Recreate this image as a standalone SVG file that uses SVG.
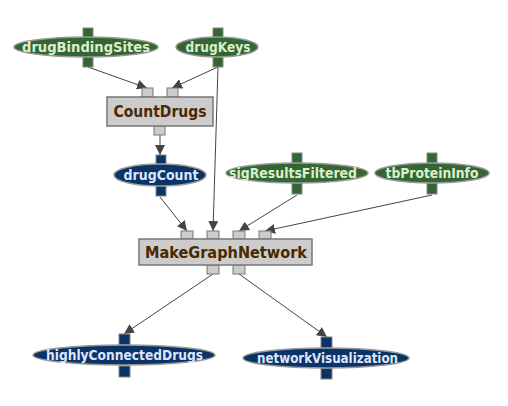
<svg xmlns="http://www.w3.org/2000/svg" width="508" height="406" viewBox="0 0 508 406">
<defs>
<marker id="ah" viewBox="0 0 10 10" refX="10" refY="5" markerWidth="10" markerHeight="10" markerUnits="userSpaceOnUse" orient="auto">
<path d="M0,0 L10,5 L0,10 z" fill="#444"/>
</marker>
<style>
.g{fill:#336633;stroke:#999;stroke-width:1.5}
.b{fill:#0a3366;stroke:#999;stroke-width:1.5}
.gp{fill:#336633;stroke:#888;stroke-width:1}
.bp{fill:#0a3366;stroke:#888;stroke-width:1}
.box{fill:#cccccc;stroke:#777;stroke-width:1.5}
.p{fill:#cccccc;stroke:#777;stroke-width:1}
.t{font-family:"DejaVu Sans Condensed","DejaVu Sans",sans-serif;font-stretch:condensed;font-weight:bold;font-size:14px;text-anchor:middle}
.tg{fill:#ddeecc}
.tb{fill:#dde6ff}
.tp{fill:#4a2800;font-size:15px}
.e{stroke:#444;stroke-width:1;fill:none;marker-end:url(#ah)}
</style>
</defs>
<g id="connectors">
<line class="e" x1="88" y1="67" x2="147" y2="88"/>
<line class="e" x1="218" y1="67" x2="172" y2="88"/>
<line class="e" x1="218" y1="67" x2="213" y2="231"/>
<line class="e" x1="160" y1="135" x2="160" y2="155"/>
<line class="e" x1="160" y1="197" x2="187" y2="231"/>
<line class="e" x1="297" y1="195" x2="239" y2="231"/>
<line class="e" x1="432" y1="195" x2="265" y2="231"/>
<line class="e" x1="213" y1="274" x2="124" y2="334"/>
<line class="e" x1="239" y1="274" x2="327" y2="337"/>
</g>
<g id="drugBindingSites">
<rect class="gp" x="83" y="28" width="10" height="10"/>
<rect class="gp" x="83" y="57" width="10" height="10"/>
<ellipse class="g" cx="86" cy="47" rx="72" ry="10"/>
<text class="t tg" x="86" y="52" textLength="128" lengthAdjust="spacingAndGlyphs">drugBindingSites</text>
</g>
<g id="drugKeys">
<rect class="gp" x="213" y="28" width="10" height="10"/>
<rect class="gp" x="213" y="57" width="10" height="10"/>
<ellipse class="g" cx="217" cy="47" rx="41" ry="10"/>
<text class="t tg" x="218" y="52" textLength="65" lengthAdjust="spacingAndGlyphs">drugKeys</text>
</g>
<g id="CountDrugs">
<rect class="p" x="142" y="88" width="11" height="9"/>
<rect class="p" x="167" y="88" width="11" height="9"/>
<rect class="p" x="154" y="126" width="11" height="9"/>
<rect class="box" x="107" y="97" width="106" height="29"/>
<text class="t tp" x="160" y="117" textLength="93" lengthAdjust="spacingAndGlyphs">CountDrugs</text>
</g>
<g id="drugCount">
<rect class="bp" x="156" y="155" width="10" height="9"/>
<rect class="bp" x="156" y="186" width="10" height="10"/>
<ellipse class="b" cx="160" cy="175" rx="46" ry="11"/>
<text class="t tb" x="161" y="180" textLength="75" lengthAdjust="spacingAndGlyphs">drugCount</text>
</g>
<g id="sigResultsFiltered">
<rect class="gp" x="292" y="153" width="10" height="10"/>
<rect class="gp" x="292" y="183" width="10" height="11"/>
<ellipse class="g" cx="297" cy="173" rx="71" ry="10"/>
<text class="t tg" x="293" y="178" textLength="128" lengthAdjust="spacingAndGlyphs">sigResultsFiltered</text>
</g>
<g id="tbProteinInfo">
<rect class="gp" x="427" y="153" width="10" height="10"/>
<rect class="gp" x="427" y="183" width="10" height="11"/>
<ellipse class="g" cx="432" cy="173" rx="57" ry="10"/>
<text class="t tg" x="432" y="178" textLength="93" lengthAdjust="spacingAndGlyphs">tbProteinInfo</text>
</g>
<g id="MakeGraphNetwork">
<rect class="p" x="181" y="231" width="12" height="8"/>
<rect class="p" x="207" y="231" width="12" height="8"/>
<rect class="p" x="233" y="231" width="12" height="8"/>
<rect class="p" x="259" y="231" width="12" height="8"/>
<rect class="p" x="207" y="265" width="12" height="9"/>
<rect class="p" x="233" y="265" width="12" height="9"/>
<rect class="box" x="139" y="239" width="173" height="26"/>
<text class="t tp" x="226" y="258" textLength="162" lengthAdjust="spacingAndGlyphs">MakeGraphNetwork</text>
</g>
<g id="highlyConnectedDrugs">
<rect class="bp" x="119" y="334" width="11" height="11"/>
<rect class="bp" x="119" y="366" width="11" height="11"/>
<ellipse class="b" cx="124" cy="355" rx="91" ry="10"/>
<text class="t tb" x="124.5" y="360" textLength="157" lengthAdjust="spacingAndGlyphs">highlyConnectedDrugs</text>
</g>
<g id="networkVisualization">
<rect class="bp" x="321" y="337" width="11" height="11"/>
<rect class="bp" x="321" y="368" width="11" height="11"/>
<ellipse class="b" cx="326" cy="358" rx="83" ry="10"/>
<text class="t tb" x="327.5" y="363" textLength="141" lengthAdjust="spacingAndGlyphs">networkVisualization</text>
</g>
</svg>
